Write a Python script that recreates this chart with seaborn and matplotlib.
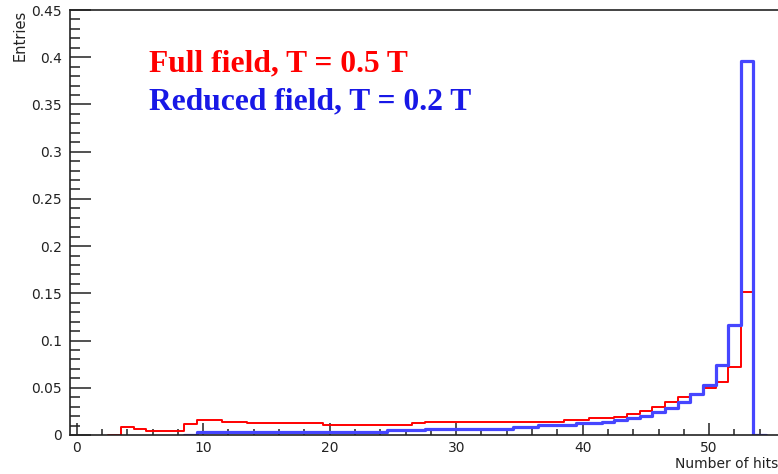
import numpy as np
import pandas as pd
import matplotlib
matplotlib.use("Agg")
import matplotlib.pyplot as plt
import seaborn as sns
from matplotlib.ticker import MultipleLocator, FuncFormatter

# Number of hits per track (bin centres, unit-width bins)
n_hits = list(range(0, 56))

# Normalised entries, full field (T = 0.5 T)
full_field = [
    0, 0, 0, 0, 0.0088, 0.0067, 0.0046, 0.0046, 0.0046, 0.0113,
    0.0159, 0.0159, 0.0138, 0.0138, 0.0127, 0.0127, 0.0127, 0.0127, 0.0127, 0.0127,
    0.0108, 0.0108, 0.0108, 0.0108, 0.0108, 0.0108, 0.0108, 0.0124,
    0.0141, 0.0141, 0.0141, 0.0141, 0.0141, 0.0141, 0.0141, 0.0141, 0.0141, 0.0141, 0.0141,
    0.0159, 0.0159, 0.0177, 0.0177, 0.0194, 0.0225, 0.0258, 0.0300, 0.0350, 0.0400,
    0.0434, 0.0497, 0.0560, 0.0720, 0.1510, 0, 0,
]

# Normalised entries, reduced field (T = 0.2 T)
reduced_field = [
    0, 0, 0, 0, 0, 0, 0, 0, 0, 0,
    0.0037, 0.0037, 0.0037, 0.0037, 0.0037, 0.0037, 0.0037, 0.0037, 0.0037, 0.0037,
    0.0037, 0.0037, 0.0037, 0.0037, 0.0037,
    0.0053, 0.0053, 0.0053,
    0.0067, 0.0067, 0.0067, 0.0067, 0.0067, 0.0067, 0.0067,
    0.0085, 0.0085,
    0.0106, 0.0106, 0.0106,
    0.0130, 0.0130,
    0.0140, 0.0155, 0.0180, 0.0205, 0.0240, 0.0290, 0.0350, 0.0434,
    0.0530, 0.0740, 0.1160, 0.3960, 0, 0,
]

labels = ["Full field, T = 0.5 T", "Reduced field, T = 0.2 T"]
line_colors = ["#ff0000", "#4646ff"]
text_colors = ["#ff0000", "#1818e6"]

sns.set_style("ticks")
plt.rcParams["font.family"] = ["DejaVu Sans"]

W, H = 778, 474
fig = plt.figure(figsize=(W / 100, H / 100), dpi=100, facecolor="white")
ax = fig.add_axes([70 / W, 39 / H, (W - 70) / W, (435 - 10) / H])


def draw_hist(values, color, lw):
    df = pd.DataFrame({"hits": n_hits, "entries": values})
    nz = np.nonzero(df["entries"].to_numpy())[0]
    df = df.iloc[nz[0] - 1: nz[-1] + 2]
    first, last = int(df["hits"].iloc[0]), int(df["hits"].iloc[-1])
    edges = [h - 0.5 for h in range(first, last + 2)]
    sns.histplot(data=df, x="hits", weights="entries", bins=edges,
                 element="step", fill=False, color=color, linewidth=lw, ax=ax)


draw_hist(full_field, line_colors[0], 1.4)
draw_hist(reduced_field, line_colors[1], 2.3)

ax.set_xlim(-0.53, 55.44)
ax.set_ylim(0, 0.45)

ax.xaxis.set_major_locator(MultipleLocator(10))
ax.xaxis.set_minor_locator(MultipleLocator(2))
ax.yaxis.set_major_locator(MultipleLocator(0.05))
ax.yaxis.set_minor_locator(MultipleLocator(0.01))
ax.yaxis.set_major_formatter(FuncFormatter(lambda v, p: f"{v:g}"))

ax.tick_params(axis="x", which="major", direction="in", length=9, width=1.1,
               labelsize=10, pad=4, colors="#222222")
ax.tick_params(axis="x", which="minor", direction="in", length=4.5, width=1.1,
               colors="#222222")
ax.tick_params(axis="y", which="major", direction="in", length=15, width=1.1,
               labelsize=10, pad=6, colors="#222222")
ax.tick_params(axis="y", which="minor", direction="in", length=7.5, width=1.1,
               colors="#222222")

for side in ["left", "bottom", "top"]:
    ax.spines[side].set_visible(True)
    ax.spines[side].set_color("#222222")
    ax.spines[side].set_linewidth(1.2)
ax.spines["right"].set_visible(False)

ax.set_ylabel("Entries", fontsize=10.5, color="#222222", ha="right")
ax.yaxis.set_label_coords(-0.06, 1.0)
ax.set_xlabel("Number of hits", fontsize=10, color="#222222", ha="right")
ax.xaxis.set_label_coords(1.0, -0.052)

for i, (lab, col) in enumerate(zip(labels, text_colors)):
    fig.text(149 / W, 1 - (71.7 + 37.6 * i) / H, lab, color=col,
             fontsize=22.7, fontweight="bold", family=["Liberation Serif"],
             ha="left", va="baseline")

fig.savefig("out.png", dpi=100, facecolor="white")
